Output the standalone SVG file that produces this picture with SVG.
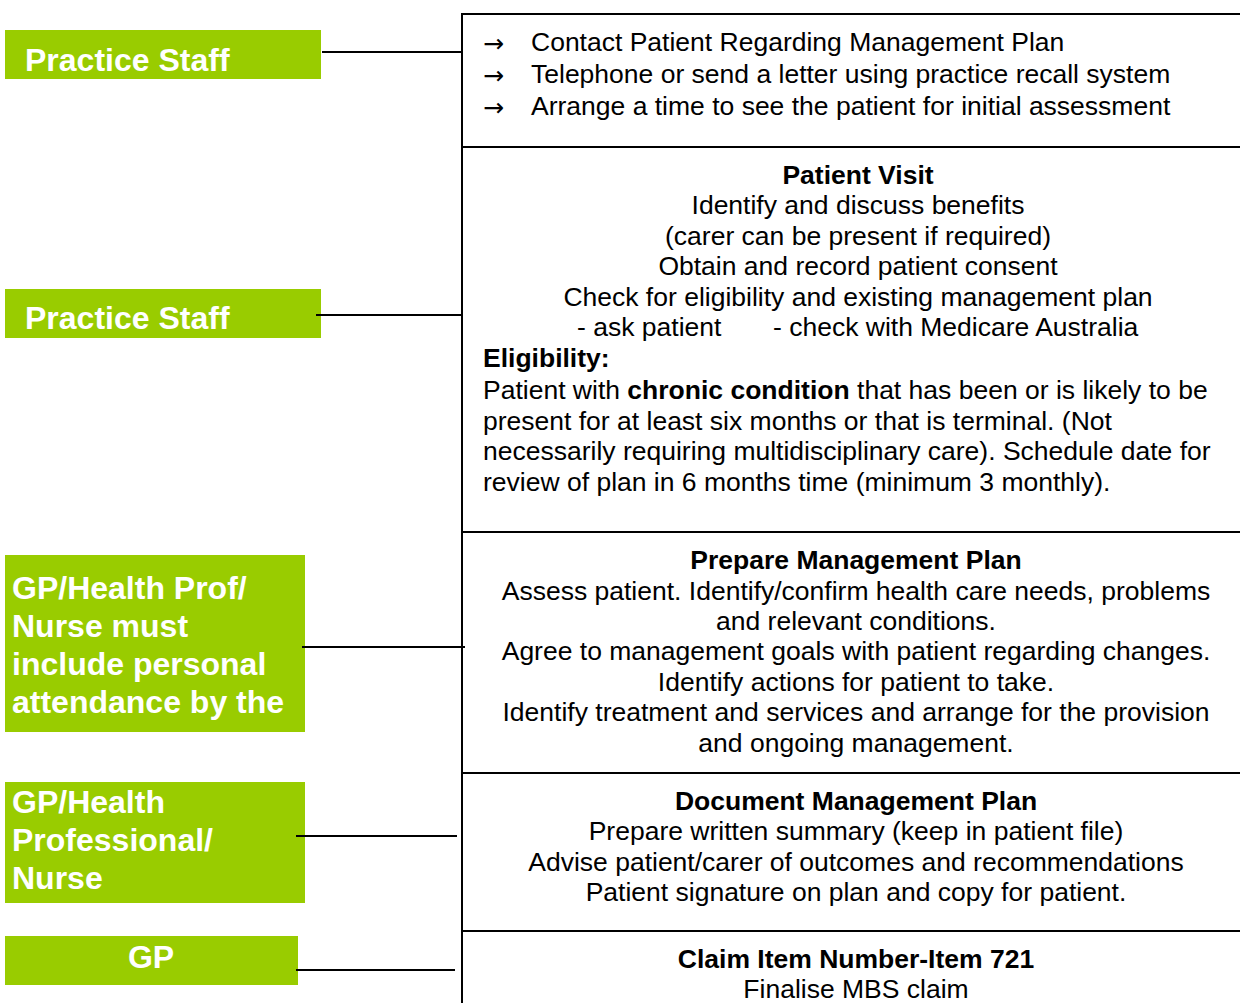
<svg xmlns="http://www.w3.org/2000/svg" width="1240" height="1003" viewBox="0 0 1240 1003">
<style>
.role{fill:#99CC00}
.rt{font-family:"Liberation Sans",Arial,sans-serif;font-weight:bold;font-size:32px;fill:#fff}
.box{fill:#fff;stroke:#000;stroke-width:2}
.t{font-family:"Liberation Sans",Arial,sans-serif;font-size:26.5px;fill:#000}
.ar{font-family:"DejaVu Sans",sans-serif;font-size:25px;fill:#000}
.c{text-anchor:middle}
.b{font-weight:bold}
.conn line{stroke:#000;stroke-width:2}
</style>
<rect width="1240" height="1003" fill="#fff"/>
<g id="role-practice-staff-1"><rect class="role" x="5" y="30" width="316" height="49"/><text class="rt" x="25" y="71">Practice Staff</text></g>
<g id="role-practice-staff-2"><rect class="role" x="5" y="289" width="316" height="49"/><text class="rt" x="25" y="329">Practice Staff</text></g>
<g id="role-gp-health-prof"><rect class="role" x="5" y="555" width="300" height="177"/>
<text class="rt" x="12" y="599">GP/Health Prof/</text>
<text class="rt" x="12" y="637">Nurse must</text>
<text class="rt" x="12" y="675">include personal</text>
<text class="rt" x="12" y="713">attendance by the</text></g>
<g id="role-gp-health-professional"><rect class="role" x="5" y="782" width="300" height="121"/>
<text class="rt" x="12" y="813">GP/Health</text>
<text class="rt" x="12" y="851">Professional/</text>
<text class="rt" x="12" y="889">Nurse</text></g>
<g id="role-gp"><rect class="role" x="5" y="936" width="293" height="49"/><text class="rt c" x="151" y="968">GP</text></g>

<g id="step-contact"><rect class="box" x="462" y="14" width="800" height="133"/>
<text class="ar" x="483" y="52">→</text><text class="t" x="531" y="51">Contact Patient Regarding Management Plan</text>
<text class="ar" x="483" y="84">→</text><text class="t" x="531" y="83">Telephone or send a letter using practice recall system</text>
<text class="ar" x="483" y="116">→</text><text class="t" x="531" y="115">Arrange a time to see the patient for initial assessment</text></g>

<g id="step-patient-visit"><rect class="box" x="462" y="147" width="800" height="385"/>
<text class="t c b" x="858" y="184">Patient Visit</text>
<text class="t c" x="858" y="214">Identify and discuss benefits</text>
<text class="t c" x="858" y="245">(carer can be present if required)</text>
<text class="t c" x="858" y="275">Obtain and record patient consent</text>
<text class="t c" x="858" y="306">Check for eligibility and existing management plan</text>
<text class="t" x="577" y="336">- ask patient</text>
<text class="t" x="773" y="336">- check with Medicare Australia</text>
<text class="t b" x="483" y="367">Eligibility:</text>
<text class="t" x="483" y="399">Patient with <tspan class="b">chronic condition</tspan> that has been or is likely to be</text>
<text class="t" x="483" y="430">present for at least six months or that is terminal. (Not</text>
<text class="t" x="483" y="460">necessarily requiring multidisciplinary care). Schedule date for</text>
<text class="t" x="483" y="491">review of plan in 6 months time (minimum 3 monthly).</text></g>

<g id="step-prepare"><rect class="box" x="462" y="532" width="800" height="241"/>
<text class="t c b" x="856" y="569">Prepare Management Plan</text>
<text class="t c" x="856" y="600">Assess patient. Identify/confirm health care needs, problems</text>
<text class="t c" x="856" y="630">and relevant conditions.</text>
<text class="t c" x="856" y="660">Agree to management goals with patient regarding changes.</text>
<text class="t c" x="856" y="691">Identify actions for patient to take.</text>
<text class="t c" x="856" y="721">Identify treatment and services and arrange for the provision</text>
<text class="t c" x="856" y="752">and ongoing management.</text></g>

<g id="step-document"><rect class="box" x="462" y="773" width="800" height="158"/>
<text class="t c b" x="856" y="810">Document Management Plan</text>
<text class="t c" x="856" y="840">Prepare written summary (keep in patient file)</text>
<text class="t c" x="856" y="871">Advise patient/carer of outcomes and recommendations</text>
<text class="t c" x="856" y="901">Patient signature on plan and copy for patient.</text></g>

<g id="step-claim"><rect class="box" x="462" y="931" width="800" height="100"/>
<text class="t c b" x="856" y="968">Claim Item Number-Item 721</text>
<text class="t c" x="856" y="998">Finalise MBS claim</text></g>

<g id="connectors" class="conn">
<line x1="322" y1="52" x2="462" y2="52"/>
<line x1="316" y1="315" x2="462" y2="315"/>
<line x1="302" y1="647" x2="465" y2="647"/>
<line x1="296" y1="836" x2="457" y2="836"/>
<line x1="296" y1="970" x2="455" y2="970"/>
</g>
</svg>
